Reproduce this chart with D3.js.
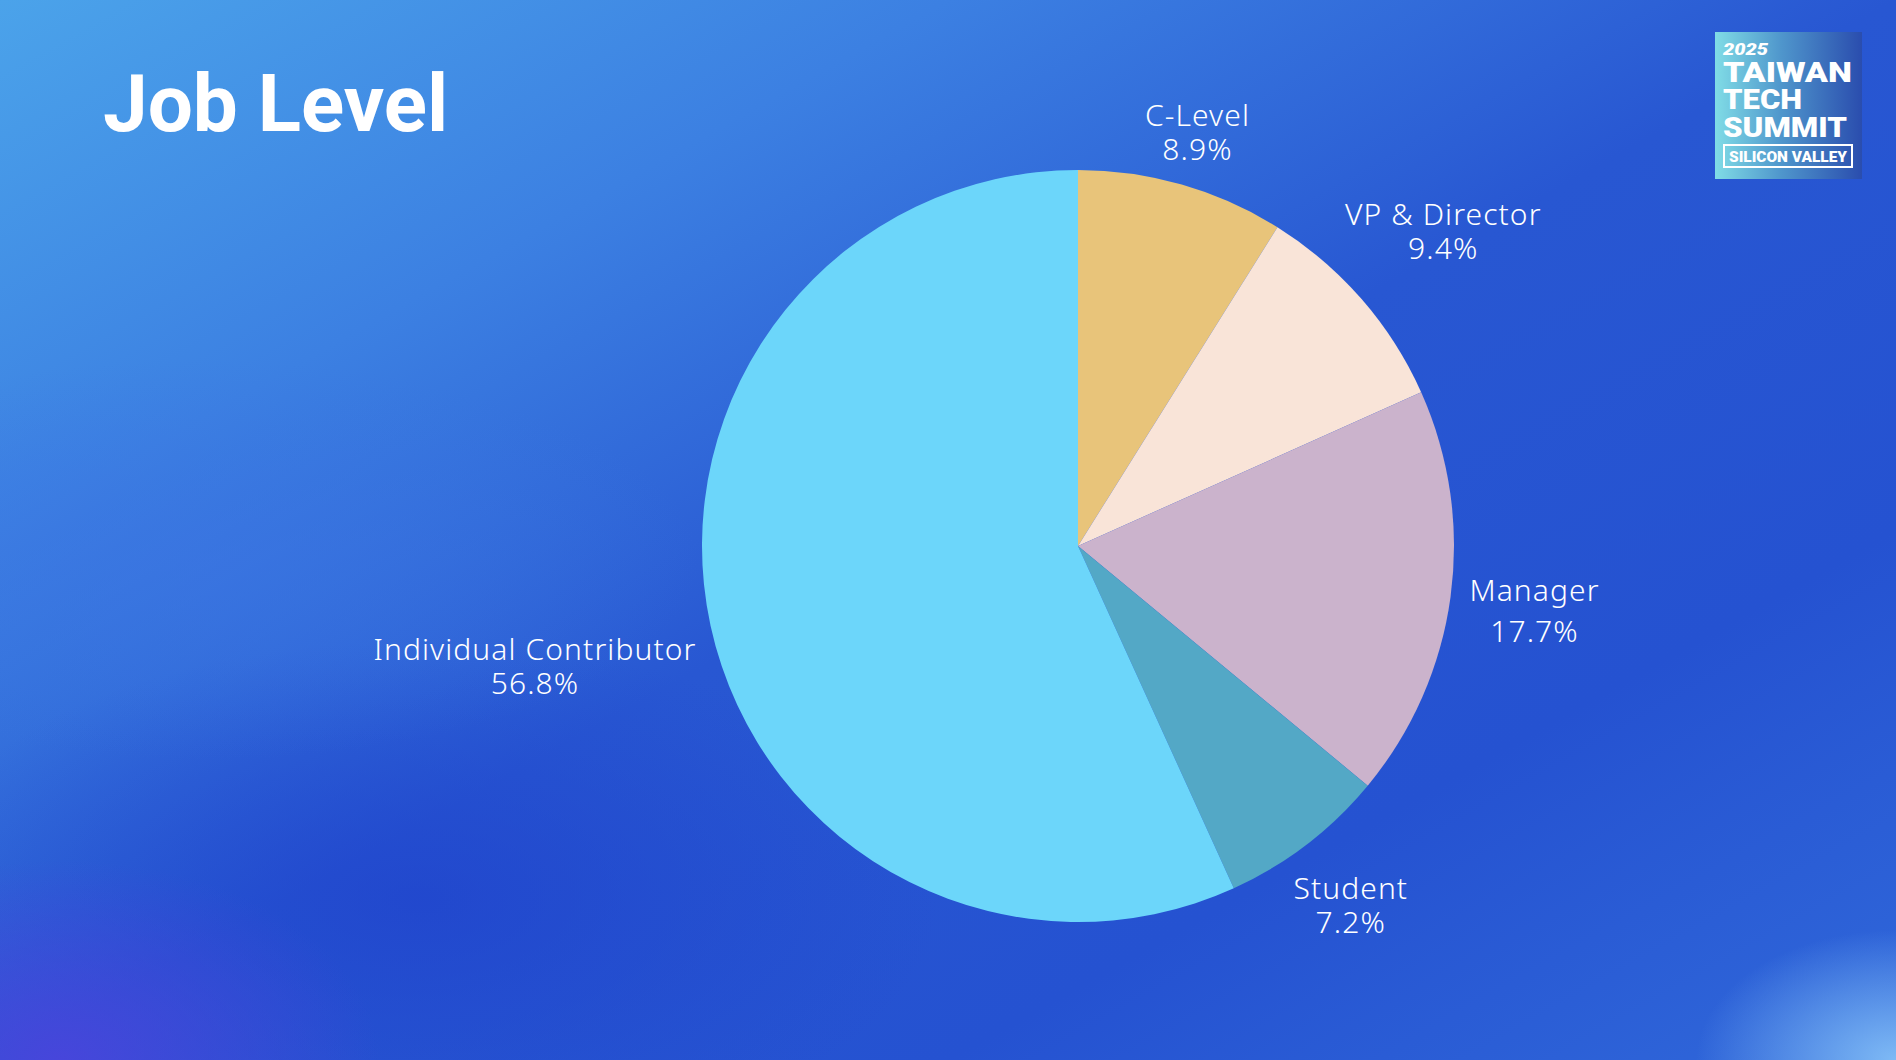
<!DOCTYPE html>
<html lang="en">

<head>
  <meta charset="UTF-8">
  <title>Job Level</title>
  <script src="https://d3js.org/d3.v7.min.js"></script>
</head>

<body>
</body>
<style>
  body {
    margin: 0;
    padding: 0;
    overflow: hidden;
  }

  .label text {
    font-family: "Noto Sans", sans-serif;
    font-weight: 300;
    font-size: 30px;
    letter-spacing: 1.1px;
    fill: #fff;
    text-anchor: middle;
  }
</style>
<script>
  const width = 1896
  const height = 1060

  // data
  const categories = ['C-Level', 'VP & Director', 'Manager', 'Student', 'Individual Contributor']
  const shares = [8.9, 9.4, 17.7, 7.2, 56.8]
  const colors = ['#E8C47A', '#F9E4D8', '#CBB3CC', '#53A8C6', '#6CD6FA']

  const cx = 1078, cy = 546, radius = 376
  const labelPad = 16
  const lineGap = d => (d.data.name === 'Manager' ? 41 : 34)

  const data = categories.map((c, i) => ({ name: c, value: shares[i], color: colors[i] }))

  const svg = d3.select('body').append('svg')
    .attr('width', width)
    .attr('height', height)

  const defs = svg.append('defs')

  const bg = defs.append('linearGradient')
    .attr('id', 'bg')
    .attr('x1', 0).attr('y1', 0).attr('x2', 1).attr('y2', 1)
  bg.selectAll('stop')
    .data([[0, '#4BA3EA'], [0.25, '#3C80E2'], [0.5, '#2857D2'], [0.75, '#2552D1'], [1, '#3068DA']])
    .join('stop')
    .attr('offset', d => d[0])
    .attr('stop-color', d => d[1])

  const glow = (id, col, op) => {
    const g = defs.append('radialGradient').attr('id', id)
    g.append('stop').attr('offset', 0).attr('stop-color', col).attr('stop-opacity', op)
    g.append('stop').attr('offset', 1).attr('stop-color', col).attr('stop-opacity', 0)
  }
  glow('glowBL', '#4A44DC', 0.9)
  glow('glowBR', '#8CC8FA', 0.85)
  glow('glowL', '#3B74E2', 0.6)
  glow('glowD', '#1F42CC', 0.7)

  const logoGrad = defs.append('linearGradient').attr('id', 'logoGrad')
  logoGrad.selectAll('stop')
    .data([[0, '#80DCE6'], [0.45, '#4F96CC'], [1, '#2A4DAE']])
    .join('stop')
    .attr('offset', d => d[0])
    .attr('stop-color', d => d[1])

  svg.append('rect').attr('width', width).attr('height', height).attr('fill', 'url(#bg)')
  svg.append('ellipse').attr('cx', 420).attr('cy', 900).attr('rx', 520).attr('ry', 260).attr('fill', 'url(#glowD)')
  svg.append('ellipse').attr('cx', 200).attr('cy', 560).attr('rx', 500).attr('ry', 200).attr('fill', 'url(#glowL)')
  svg.append('ellipse').attr('cx', 60).attr('cy', 1060).attr('rx', 320).attr('ry', 200).attr('fill', 'url(#glowBL)')
  svg.append('ellipse').attr('cx', 1896).attr('cy', 1060).attr('rx', 200).attr('ry', 130).attr('fill', 'url(#glowBR)')

  // title
  svg.append('text')
    .attr('x', 103)
    .attr('y', 131)
    .attr('fill', '#fff')
    .style('font-family', 'Roboto, sans-serif')
    .style('font-weight', 700)
    .style('font-size', '80px')
    .text('Job Level')

  // pie
  const pie = d3.pie().value(d => d.value).sort(null)
  const arc = d3.arc().innerRadius(0).outerRadius(radius)

  const g = svg.append('g').attr('transform', `translate(${cx},${cy})`)
  const arcs = pie(data)

  g.selectAll('path')
    .data(arcs)
    .join('path')
    .attr('d', arc)
    .attr('fill', d => d.data.color)

  const label = g.selectAll('g.label')
    .data(arcs)
    .join('g')
    .attr('class', 'label')

  label.append('text')
    .attr('y', 0)
    .text(d => d.data.name)

  label.append('text')
    .attr('y', d => lineGap(d))
    .text(d => d.data.value.toFixed(1) + '%')

  // push each label box out along its mid-angle until it clears the pie
  label.each(function (d) {
    const box = this.getBBox()
    const w = box.width
    const h = lineGap(d) + 21
    const a = (d.startAngle + d.endAngle) / 2
    const sx = Math.sin(a), sy = -Math.cos(a)
    const dist = radius + labelPad + Math.abs(sx) * w / 2 + Math.abs(sy) * h / 2
    const x = sx * dist
    const y = sy * dist - h / 2 + 24
    d3.select(this).attr('transform', `translate(${x},${y})`)
  })

  // logo
  const logo = svg.append('g').attr('transform', 'translate(1715,32)')
  logo.append('rect').attr('width', 147).attr('height', 147).attr('fill', 'url(#logoGrad)')
  const logoText = (t, x, y, size, len, style) => logo.append('text')
    .attr('x', x).attr('y', y)
    .attr('fill', '#fff')
    .attr('textLength', len)
    .attr('lengthAdjust', 'spacingAndGlyphs')
    .style('font-family', 'Roboto, sans-serif')
    .style('font-weight', 900)
    .style('font-style', style || 'normal')
    .style('font-size', size + 'px')
    .text(t)
  logoText('2025', 8, 23, 17, 45, 'italic')
  logoText('TAIWAN', 8, 50, 28, 129)
  logoText('TECH', 8, 77, 28, 79)
  logoText('SUMMIT', 8, 105, 28, 124)
  logo.append('rect')
    .attr('x', 9).attr('y', 113).attr('width', 128).attr('height', 22)
    .attr('fill', 'none').attr('stroke', '#fff').attr('stroke-width', 2)
  logoText('SILICON VALLEY', 14, 130, 14, 118)
</script>

</html>
